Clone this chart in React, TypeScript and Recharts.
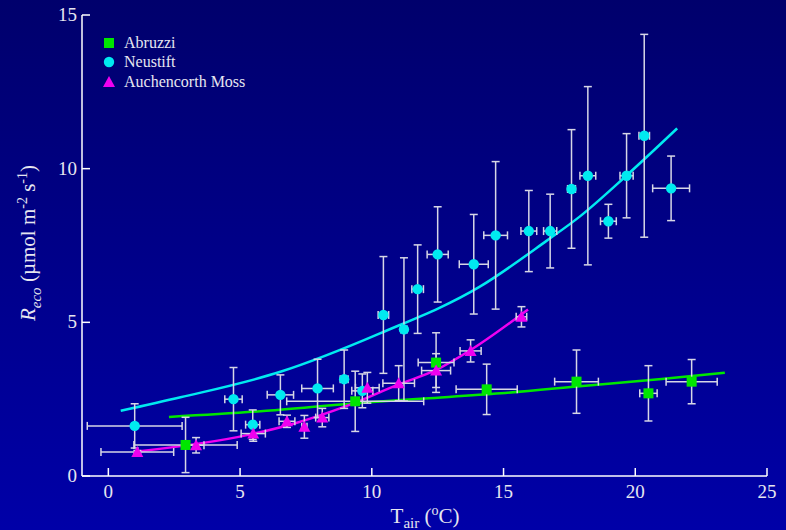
import React from "react";
import { ComposedChart, Scatter, Line, XAxis, YAxis, ErrorBar } from "recharts";

// measured points: x = air temperature, y = Reco, ex/ey = error bars
const abruzzi = [
  { x: 2.93, y: 1.01, ex: 1.96, ey: 0.9 },
  { x: 9.37, y: 2.43, ex: 2.6, ey: 0.98 },
  { x: 12.44, y: 3.69, ex: 0.68, ey: 0.97 },
  { x: 14.36, y: 2.82, ex: 1.16, ey: 0.82 },
  { x: 17.77, y: 3.07, ex: 0.83, ey: 1.03 },
  { x: 20.5, y: 2.69, ex: 0.33, ey: 0.9 },
  { x: 22.14, y: 3.07, ex: 0.97, ey: 0.72 },
];

const neustift = [
  { x: 1.0, y: 1.63, ex: 1.8, ey: 0.72 },
  { x: 4.75, y: 2.5, ex: 0.33, ey: 1.03 },
  { x: 5.48, y: 1.67, ex: 0.27, ey: 0.48 },
  { x: 6.53, y: 2.64, ex: 0.5, ey: 0.65 },
  { x: 7.94, y: 2.85, ex: 0.6, ey: 0.95 },
  { x: 8.95, y: 3.15, ex: 0.15, ey: 0.95 },
  { x: 9.64, y: 2.77, ex: 0.4, ey: 0.55 },
  { x: 10.44, y: 5.24, ex: 0.2, ey: 1.9 },
  { x: 11.22, y: 4.77, ex: 0.12, ey: 2.33 },
  { x: 11.74, y: 6.08, ex: 0.22, ey: 1.44 },
  { x: 12.5, y: 7.21, ex: 0.4, ey: 1.55 },
  { x: 13.87, y: 6.89, ex: 0.55, ey: 1.62 },
  { x: 14.7, y: 7.83, ex: 0.45, ey: 2.4 },
  { x: 15.96, y: 7.97, ex: 0.3, ey: 1.32 },
  { x: 16.77, y: 7.97, ex: 0.25, ey: 1.2 },
  { x: 17.58, y: 9.34, ex: 0.15, ey: 1.93 },
  { x: 18.2, y: 9.77, ex: 0.3, ey: 2.9 },
  { x: 18.98, y: 8.29, ex: 0.3, ey: 0.55 },
  { x: 19.67, y: 9.77, ex: 0.25, ey: 1.37 },
  { x: 20.34, y: 11.07, ex: 0.2, ey: 3.3 },
  { x: 21.36, y: 9.36, ex: 0.7, ey: 1.05 },
];

const auchencorth = [
  { x: 1.1, y: 0.78, ex: 1.38, ey: 0.05 },
  { x: 3.33, y: 1.0, ex: 0.3, ey: 0.25 },
  { x: 5.5, y: 1.38, ex: 0.46, ey: 0.25 },
  { x: 6.78, y: 1.78, ex: 0.3, ey: 0.2 },
  { x: 7.44, y: 1.6, ex: 0.1, ey: 0.37 },
  { x: 8.12, y: 1.9, ex: 0.25, ey: 0.3 },
  { x: 9.83, y: 2.87, ex: 0.45, ey: 0.5 },
  { x: 11.02, y: 3.02, ex: 0.6, ey: 0.57 },
  { x: 12.44, y: 3.43, ex: 0.55, ey: 0.55 },
  { x: 13.75, y: 4.07, ex: 0.4, ey: 0.36 },
  { x: 15.68, y: 5.18, ex: 0.2, ey: 0.33 },
];

// fitted curves
const abruzziFit = [
  { x: 2.3, y: 1.92 }, { x: 6, y: 2.12 }, { x: 9.4, y: 2.37 }, { x: 12, y: 2.52 },
  { x: 14.9, y: 2.69 }, { x: 18, y: 2.93 }, { x: 21, y: 3.16 }, { x: 23.4, y: 3.36 },
];
const neustiftFit = [
  { x: 0.47, y: 2.12 }, { x: 2.74, y: 2.56 }, { x: 6.53, y: 3.39 }, { x: 10.31, y: 4.64 },
  { x: 14.1, y: 6.16 }, { x: 16.63, y: 7.65 }, { x: 17.89, y: 8.44 }, { x: 19.66, y: 9.77 },
  { x: 21.59, y: 11.31 },
];
const auchencorthFit = [
  { x: 1.04, y: 0.79 }, { x: 5.27, y: 1.33 }, { x: 7.03, y: 1.7 }, { x: 9.05, y: 2.28 },
  { x: 11.02, y: 2.98 }, { x: 12.44, y: 3.45 }, { x: 13.75, y: 4.1 }, { x: 15.93, y: 5.42 },
];

const xTicks = [0, 5, 10, 15, 20, 25];
const yTicks = [0, 5, 10, 15];

const GREEN = "#00e600";
const CYAN = "#00eaf0";
const MAGENTA = "#f000f0";
const BAR = "#d6d6e6";
const TEXT = "#e6e6f0";
const FONT = "'Liberation Serif', 'DejaVu Serif', serif";

const legend = [
  { name: "Abruzzi", color: GREEN, shape: "square" },
  { name: "Neustift", color: CYAN, shape: "circle" },
  { name: "Auchencorth Moss", color: MAGENTA, shape: "triangle" },
];

const series = [
  { name: "Neustift", data: neustift, color: CYAN, shape: "circle" },
  { name: "Abruzzi", data: abruzzi, color: GREEN, shape: "square" },
  { name: "Auchencorth Moss", data: auchencorth, color: MAGENTA, shape: "triangle" },
];

function Marker({ shape, color, cx, cy }: any) {
  if (shape === "square") return <rect x={cx - 5} y={cy - 5} width={10} height={10} fill={color} />;
  if (shape === "circle") return <circle cx={cx} cy={cy} r={5.2} fill={color} />;
  return <polygon points={`${cx},${cy - 6} ${cx + 6},${cy + 5} ${cx - 6},${cy + 5}`} fill={color} />;
}

const BottomTick = ({ x, y, payload }: any) => (
  <g>
    <line x1={x} y1={y} x2={x} y2={y - 8} stroke="#fff" strokeWidth={1.5} />
    <text x={x} y={y + 22} textAnchor="middle" fill={TEXT} fontSize={19} fontFamily={FONT}>
      {payload.value}
    </text>
  </g>
);
const TopTick = ({ x, y }: any) => (
  <line x1={x} y1={y} x2={x} y2={y + 8} stroke="#fff" strokeWidth={1.5} />
);
const LeftTick = ({ x, y, payload }: any) => (
  <g>
    <line x1={x} y1={y} x2={x + 8} y2={y} stroke="#fff" strokeWidth={1.5} />
    <text x={x - 5} y={y + 6} textAnchor="end" fill={TEXT} fontSize={19} fontFamily={FONT}>
      {payload.value}
    </text>
  </g>
);
const RightTick = ({ x, y }: any) => (
  <line x1={x} y1={y} x2={x - 8} y2={y} stroke="#fff" strokeWidth={1.5} />
);

export default function App() {
  const axisLine = { stroke: "#fff", strokeWidth: 1.5 };
  const markerProps: any = { zIndex: 2000 };
  return (
    <div
      style={{
        position: "absolute",
        left: 0,
        top: 0,
        width: 786,
        height: 530,
        background: "linear-gradient(#00006c, #0000a8)",
        fontFamily: FONT,
        color: TEXT,
      }}
    >
      <ComposedChart width={786} height={530} margin={{ top: 15, right: 19, bottom: 0, left: 0 }}>
        <XAxis
          type="number"
          dataKey="x"
          domain={[-1, 25]}
          ticks={xTicks}
          height={54}
          tickSize={0}
          tickMargin={0}
          axisLine={axisLine}
          tickLine={false}
          tick={<BottomTick />}
        />
        <XAxis
          xAxisId="top"
          orientation="top"
          type="number"
          dataKey="x"
          domain={[-1, 25]}
          ticks={xTicks}
          height={0}
          tickSize={0}
          tickMargin={0}
          axisLine={axisLine}
          tickLine={false}
          tick={<TopTick />}
        />
        <YAxis
          type="number"
          dataKey="y"
          domain={[0, 15]}
          ticks={yTicks}
          width={82}
          tickSize={0}
          tickMargin={0}
          axisLine={axisLine}
          tickLine={false}
          tick={<LeftTick />}
        />
        <YAxis
          yAxisId="right"
          orientation="right"
          type="number"
          dataKey="y"
          domain={[0, 15]}
          ticks={yTicks}
          width={0}
          tickSize={0}
          tickMargin={0}
          axisLine={axisLine}
          tickLine={false}
          tick={<RightTick />}
        />

        <Line data={neustiftFit} dataKey="y" type="monotone" stroke={CYAN} strokeWidth={2.5} dot={false} isAnimationActive={false} />
        <Line data={abruzziFit} dataKey="y" type="monotone" stroke={GREEN} strokeWidth={2.5} dot={false} isAnimationActive={false} />
        <Line data={auchencorthFit} dataKey="y" type="monotone" stroke={MAGENTA} strokeWidth={2.5} dot={false} isAnimationActive={false} />

        {/* error bars first, markers drawn on top by a second pass */}
        {series.map((s) => (
          <Scatter key={s.name + "-err"} data={s.data} isAnimationActive={false} legendType="none" shape={() => <g />}>
            <ErrorBar dataKey="ey" direction="y" width={4} stroke={BAR} strokeWidth={1.5} />
            <ErrorBar dataKey="ex" direction="x" width={4} stroke={BAR} strokeWidth={1.5} />
          </Scatter>
        ))}
        {series.map((s) => (
          <Scatter key={s.name} name={s.name} data={s.data} isAnimationActive={false} {...markerProps}
            shape={(p: any) => <Marker shape={s.shape} color={s.color} cx={p.cx} cy={p.cy} />} />
        ))}
      </ComposedChart>

      {/* legend */}
      <div style={{ position: "absolute", left: 102, top: 33 }}>
        {legend.map((d) => (
          <div key={d.name} style={{ display: "flex", alignItems: "center", height: 19.5, fontSize: 16 }}>
            <svg width={14} height={14} style={{ marginRight: 8 }}>
              <Marker shape={d.shape} color={d.color} cx={7} cy={7} />
            </svg>
            <span>{d.name}</span>
          </div>
        ))}
      </div>

      {/* axis titles */}
      <div
        style={{
          position: "absolute",
          left: 425,
          top: 503,
          transform: "translateX(-50%)",
          fontSize: 21,
          whiteSpace: "nowrap",
        }}
      >
        T<sub style={{ fontSize: 15 }}>air</sub> (<sup style={{ fontSize: 14 }}>o</sup>C)
      </div>
      <div
        style={{
          position: "absolute",
          left: 30,
          top: 243,
          transform: "translate(-50%, -50%) rotate(-90deg)",
          fontSize: 21,
          whiteSpace: "nowrap",
        }}
      >
        <i>R</i>
        <sub style={{ fontSize: 15 }}>
          <i>eco</i>
        </sub>{" "}
        (µmol m<sup style={{ fontSize: 14 }}>-2</sup> s<sup style={{ fontSize: 14 }}>-1</sup>)
      </div>
    </div>
  );
}
